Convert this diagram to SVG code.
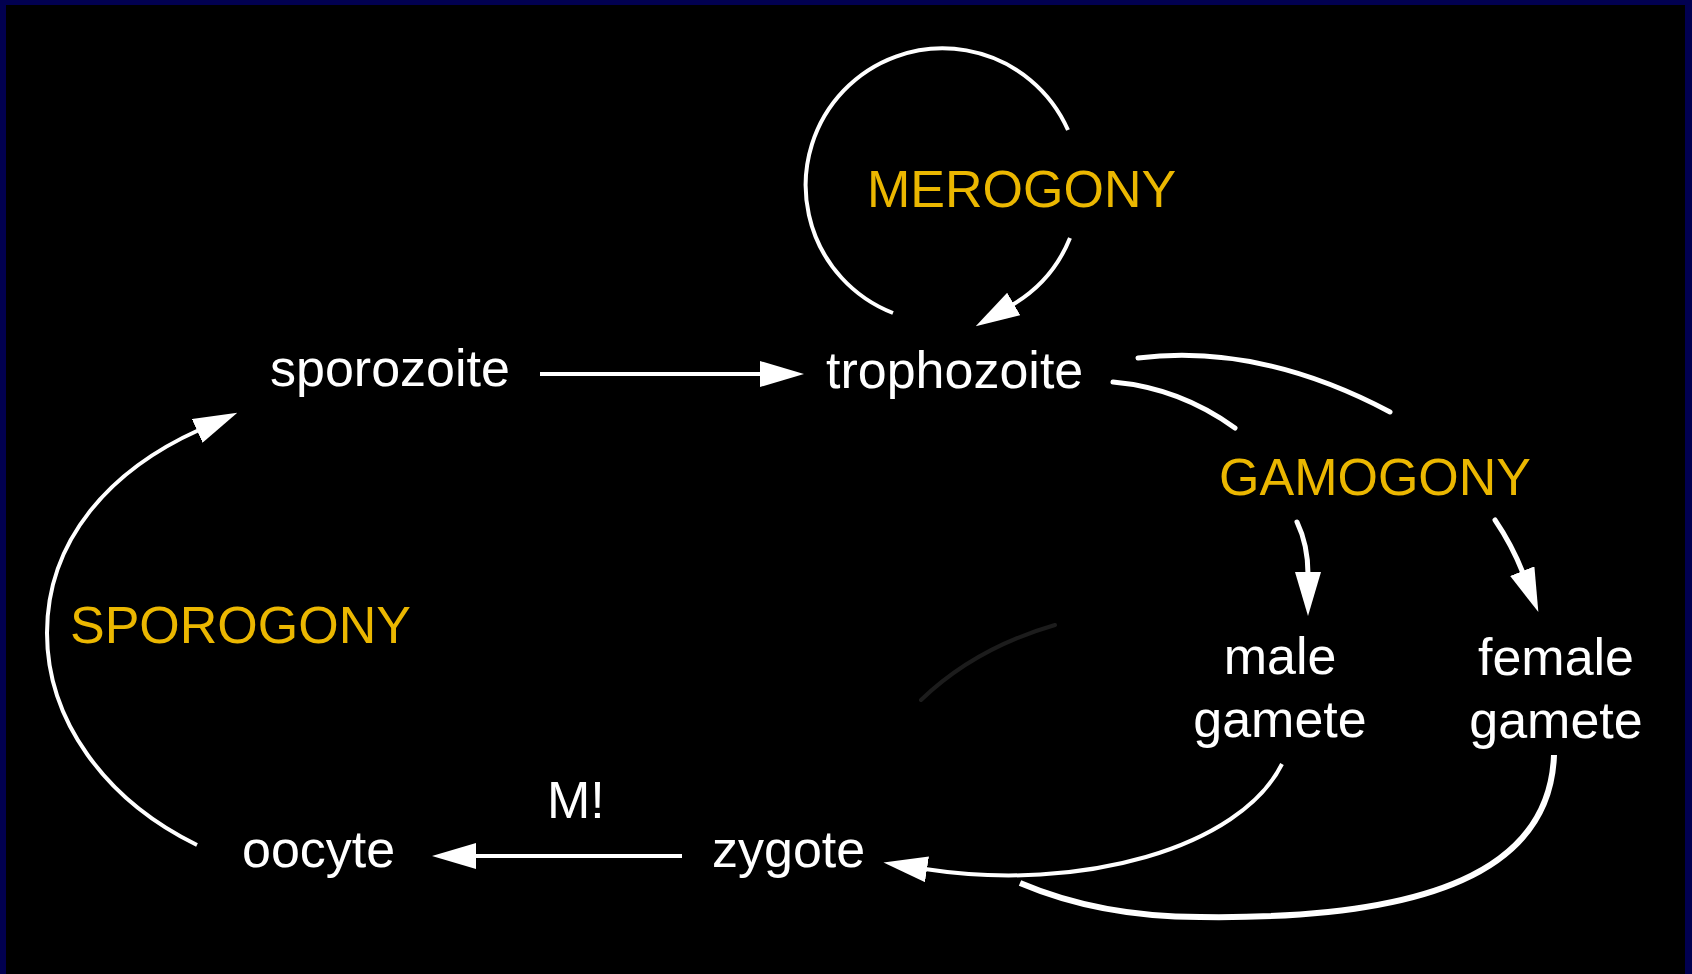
<svg xmlns="http://www.w3.org/2000/svg" width="1692" height="974" viewBox="0 0 1692 974">
  <style>
    .lbl { font-family: "Liberation Sans", Arial, sans-serif; font-size: 52px; fill: #FFFFFF; }
    .phase { font-family: "Liberation Sans", Arial, sans-serif; font-size: 52px; fill: #EBB700; }
    .ln { fill: none; stroke: #FFFFFF; stroke-width: 4; stroke-linecap: butt; }
    .thick { stroke-width: 5; stroke-linecap: round; }
  </style>
  <defs>
    <marker id="arrow" markerUnits="userSpaceOnUse" viewBox="0 0 44 26" markerWidth="44" markerHeight="26" refX="2" refY="13" orient="auto">
      <path d="M0,0 L44,13 L0,26 z" fill="#FFFFFF"/>
    </marker>
  </defs>

  <rect x="0" y="0" width="1692" height="974" fill="#000000"/>
  <g id="frame" fill="#010050">
    <rect x="0" y="0" width="1692" height="5"/>
    <rect x="0" y="0" width="6" height="974"/>
    <rect x="1685" y="0" width="7" height="974"/>
  </g>

  <g id="connectors">
    <!-- sporozoite -> trophozoite -->
    <path class="ln" d="M540,374 L762,374" marker-end="url(#arrow)"/>
    <!-- zygote -> oocyte (M!) -->
    <path class="ln" d="M682,856 L474,856" marker-end="url(#arrow)"/>
    <!-- merogony loop -->
    <path class="ln" d="M1068,130 A137,137 0 1 0 893,313"/>
    <path class="ln" d="M1070,238 A137,137 0 0 1 1012,305" marker-end="url(#arrow)"/>
    <!-- sporogony arc -->
    <path class="ln" d="M197,845 C105,800 47,720 47,633 C47,540 110,470 199,430" marker-end="url(#arrow)"/>
    <!-- trophozoite -> gamogony -->
    <path class="ln thick" d="M1138,358 Q1260,343 1390,412"/>
    <path class="ln thick" d="M1113,382 Q1180,388 1235,428"/>
    <!-- gamogony -> male / female gamete -->
    <path class="ln thick" d="M1297,522 Q1308,545 1308,574" marker-end="url(#arrow)"/>
    <path class="ln thick" d="M1495,520 Q1512,545 1523,573" marker-end="url(#arrow)"/>
    <!-- male gamete -> zygote -->
    <path class="ln" d="M1282,764 C1240,848 1080,893 925,869" marker-end="url(#arrow)"/>
    <!-- female gamete -> zygote -->
    <path class="ln" style="stroke-width:6" d="M1554,755 C1550,870 1430,920 1200,917 C1120,917 1060,900 1020,883"/>
    <!-- faint ghost arc -->
    <path d="M921,700 Q975,648 1055,625" fill="none" stroke="#1c1c1c" stroke-width="4" stroke-linecap="round"/>
  </g>

  <g id="merogony"><text class="phase" x="867" y="207">MEROGONY</text></g>
  <g id="gamogony"><text class="phase" x="1219" y="495">GAMOGONY</text></g>
  <g id="sporogony"><text class="phase" x="70" y="643">SPOROGONY</text></g>

  <g id="sporozoite"><text class="lbl" x="270" y="386">sporozoite</text></g>
  <g id="trophozoite"><text class="lbl" x="826" y="388">trophozoite</text></g>
  <g id="male-gamete">
    <text class="lbl" x="1280" y="674" text-anchor="middle">male</text>
    <text class="lbl" x="1280" y="737" text-anchor="middle">gamete</text>
  </g>
  <g id="female-gamete">
    <text class="lbl" x="1556" y="675" text-anchor="middle">female</text>
    <text class="lbl" x="1556" y="738" text-anchor="middle">gamete</text>
  </g>
  <g id="zygote"><text class="lbl" x="712" y="867">zygote</text></g>
  <g id="oocyte"><text class="lbl" x="242" y="867">oocyte</text></g>
  <g id="m-label"><text class="lbl" x="547" y="818">M!</text></g>
</svg>
